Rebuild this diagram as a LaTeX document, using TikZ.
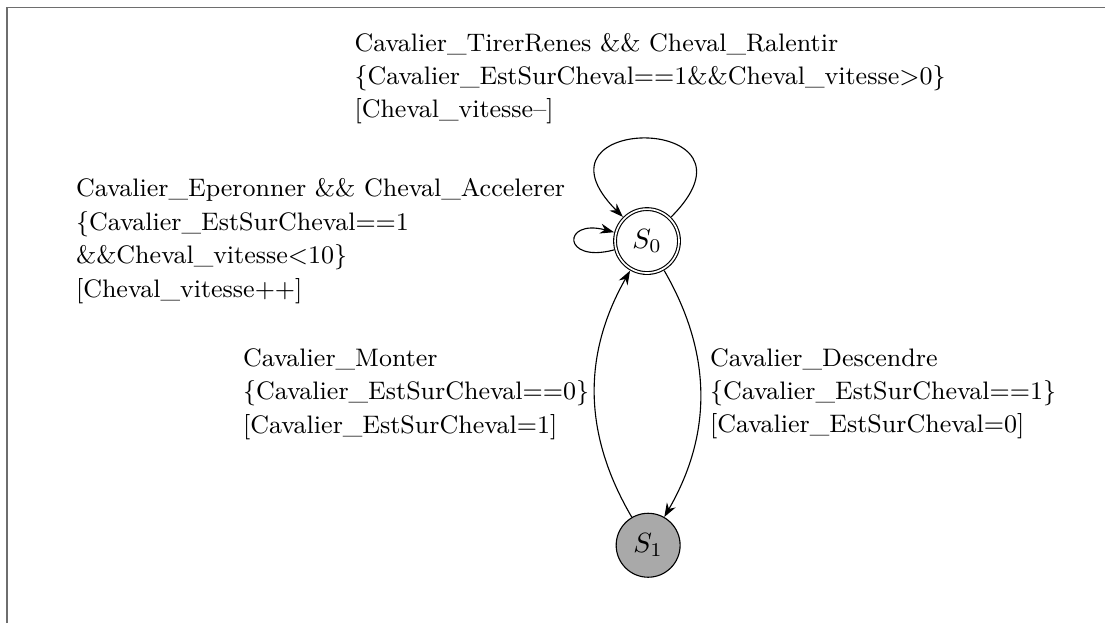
\documentclass[tikz,border=0pt]{standalone}
\usetikzlibrary{arrows.meta}
\definecolor{framegray}{RGB}{110,110,110}
\definecolor{stategray}{RGB}{169,169,169}
\begin{document}
\begin{tikzpicture}[x=1pt,y=1pt,
  >={Stealth[length=5pt,width=3.6pt]},
  statebox/.style={circle,draw,minimum size=23pt,inner sep=0pt},
  lbl/.style={align=left,font=\fontsize{9.1}{12}\selectfont},
  framestyle/.style={draw=framegray,line width=0.7pt}]
\useasboundingbox (-232.7,-137.4) rectangle (164.7,86.7);
\draw[framestyle] (-230.2,-137.4) -- (-230.2,84) -- (164.7,84);
\node[statebox,double,outer sep=0.8pt] (s0) at (0,0) {$S_0$};
\node[statebox,fill=stategray] (s1) at (0.4,-109.4) {$S_1$};
% big loop above
\draw[->] (s0.45) .. controls +(45:53pt) and +(135:53pt) .. (s0.135);
\node[lbl,anchor=north west,inner sep=0pt] (toplbl) at (-105.4,75.0)
  {Cavalier\_TirerRenes \&\& Cheval\_Ralentir\\
   \{Cavalier\_EstSurCheval==1\&\&Cheval\_vitesse>0\}\\
   {[}Cheval\_vitesse--]};
% small loop left
\draw[->] (s0.195) .. controls +(195:19.4pt) and +(165:19.4pt) .. (s0.165)
  node[midway,left,lbl] (looplbl) {Cavalier\_Eperonner \&\& Cheval\_Accelerer\\
   \{Cavalier\_EstSurCheval==1\\
   \&\&Cheval\_vitesse<10\}\\
   {[}Cheval\_vitesse++]};
% transitions between states
\draw[->] (s0) to[bend left] node[right,lbl] (downlbl) {Cavalier\_Descendre\\
   \{Cavalier\_EstSurCheval==1\}\\
   {[}Cavalier\_EstSurCheval=0]} (s1);
\draw[->] (s1) to[bend left] node[left,lbl,xshift=1.5pt] (uplbl) {Cavalier\_Monter\\
   \{Cavalier\_EstSurCheval==0\}\\
   {[}Cavalier\_EstSurCheval=1]} (s0);
\end{tikzpicture}
\end{document}
